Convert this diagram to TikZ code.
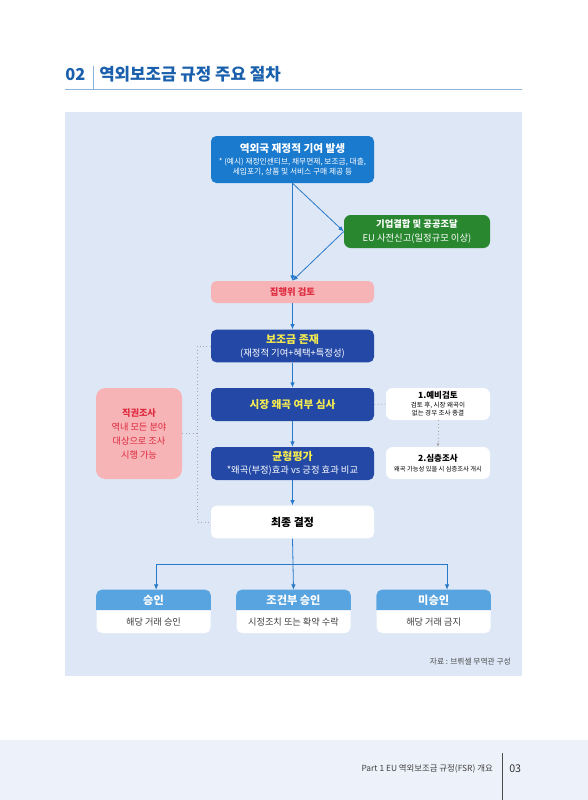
\documentclass[tikz,border=0pt]{standalone}
\usepackage{fontspec}
\setmainfont{Noto Sans CJK KR}
\definecolor{titleblue}{RGB}{26,96,172}
\definecolor{ruleblue}{RGB}{140,180,218}
\definecolor{panelbg}{RGB}{221,231,246}
\definecolor{footbg}{RGB}{237,241,250}
\definecolor{topblue}{RGB}{26,122,206}
\definecolor{mergegreen}{RGB}{41,135,48}
\definecolor{reviewpink}{RGB}{247,180,183}
\definecolor{reviewred}{RGB}{222,42,62}
\definecolor{stepnavy}{RGB}{35,72,165}
\definecolor{stepyellow}{RGB}{246,236,80}
\definecolor{hdrblue}{RGB}{88,164,224}
\definecolor{flowblue}{RGB}{40,122,200}
\usetikzlibrary{arrows.meta,calc}

\begin{document}
\begin{tikzpicture}[x=0.75pt,y=-0.75pt,
    every node/.style={font=\fontsize{7}{9}\selectfont,inner sep=0pt,align=center},
    flowbox/.style={rounded corners=4pt,minimum width=122.25pt,minimum height=24.5pt},
    navybox/.style={flowbox,fill=stepnavy,text=white},
    sidebox/.style={rounded corners=5pt,fill=white,minimum width=78pt,minimum height=24pt},
    outbox/.style={rounded corners=4pt,fill=white,minimum width=85.5pt,minimum height=32.25pt},
    hdrtext/.style={text=white,font=\fontsize{8.4}{9}\selectfont\bfseries},
    bodytext/.style={text=black!75,font=\fontsize{6.9}{8}\selectfont},
    flow/.style={draw=flowblue,line width=0.6pt,-{Latex[length=4pt,width=3.4pt]}},
    dotline/.style={draw=black!35,dotted,line width=0.6pt}]
  \useasboundingbox (0,0) rectangle (588,800);
  \fill[white] (0,0) rectangle (588,800);
  \fill[footbg] (0,740) rectangle (588,800);
  \fill[panelbg] (65,112) rectangle (522,676);

  % heading
  \node[anchor=west,text=titleblue,font=\fontsize{12.3}{14}\selectfont\bfseries]
        (chapno) at (65,75) {02};
  \draw[ruleblue,line width=0.6pt] (93,66) -- (93,89);
  \node[anchor=west,text=titleblue,font=\fontsize{12.6}{14}\selectfont\bfseries]
        (heading) at (99,74) {역외보조금 규정 주요 절차};
  \draw[ruleblue,line width=0.7pt] (65,89) -- (522,89);

  % main flow
  \node[flowbox,fill=topblue,text=white,minimum height=35.25pt,
        font=\fontsize{5.8}{7.4}\selectfont]
        (origin) at (292.5,159.5)
        {{\fontsize{8}{9}\selectfont\bfseries 역외국 재정적 기여 발생}\\[2pt]
         * (예시) 재정인센티브, 채무면제, 보조금, 대출,\\
         세입포기, 상품 및 서비스 구매 제공 등};
  \node[rounded corners=5pt,fill=mergegreen,text=white,minimum width=109.5pt,
        minimum height=24.75pt,font=\fontsize{7}{9.5}\selectfont]
        (merger) at (417,231.5)
        {{\bfseries 기업결합 및 공공조달}\\[1pt] EU 사전신고(일정규모 이상)};
  \node[flowbox,fill=reviewpink,text=reviewred,minimum height=16.5pt,
        font=\fontsize{7}{8}\selectfont\bfseries]
        (commission) at (292.5,292) {집행위 검토};
  \node[navybox,font=\fontsize{7}{9}\selectfont]
        (subsidy) at (292.5,346)
        {{\fontsize{8.2}{9}\selectfont\bfseries\color{stepyellow}보조금 존재}\\[0.5pt]
         (재정적 기여+혜택+특정성)};
  \node[navybox,minimum height=24.75pt,text=stepyellow,
        font=\fontsize{8}{9}\selectfont\bfseries]
        (distortion) at (292.5,404.5) {시장 왜곡 여부 심사};
  \node[navybox,minimum height=24.75pt,font=\fontsize{7}{9}\selectfont]
        (balance) at (292.5,463.5)
        {{\fontsize{8.2}{9}\selectfont\bfseries\color{stepyellow}균형평가}\\[0.5pt]
         *왜곡(부정)효과 vs 긍정 효과 비교};
  \node[flowbox,fill=white,font=\fontsize{8.2}{9}\selectfont\bfseries]
        (decision) at (292.5,522) {최종 결정};

  % side boxes
  \node[rounded corners=7pt,fill=reviewpink,text=reviewred,minimum width=64.5pt,
        minimum height=68.25pt,font=\fontsize{6.9}{10.5}\selectfont]
        (exofficio) at (139,433.5)
        {{\bfseries 직권조사}\\ 역내 모든 분야\\ 대상으로 조사\\ 시행 가능};
  \node[sidebox,font=\fontsize{4.9}{6.2}\selectfont]
        (prelim) at (438,404)
        {{\fontsize{6.4}{8}\selectfont\bfseries 1.예비검토}\\[0.5pt]
         검토 후, 시장 왜곡이\\ 없는 경우 조사 종결};
  \node[sidebox,font=\fontsize{4.7}{6}\selectfont]
        (indepth) at (438,463)
        {{\fontsize{6.4}{8}\selectfont\bfseries 2.심층조사}\\[1.5pt]
         왜곡 가능성 있을 시 심층조사 개시};

  % outcomes
  \foreach \nm/\cx/\hd/\bd in {approve/153.5/승인/해당 거래 승인,
      conditional/293.5/조건부 승인/시정조치 또는 확약 수락,
      reject/433.7/미승인/해당 거래 금지}{
    \node[outbox] (\nm) at (\cx,611.5) {};
    \fill[hdrblue] (\nm.west |- 0,610) [rounded corners=4pt] -- (\nm.north west)
          -- (\nm.north east) [sharp corners] -- (\nm.east |- 0,610) -- cycle;
    \node[hdrtext] (\nm-hd) at (\cx,600) {\hd};
    \node[bodytext] (\nm-bd) at (\cx,622) {\bd};
  }

  % connectors
  \coordinate (split) at (293,564);
  \coordinate (brk) at (197,0);
  \draw[flow] (origin.south) -- (commission.north);
  \draw[flow] (origin.south) -- (merger.west);
  \draw[flow] (merger.west) -- (commission.north);
  \draw[flow] (commission) -- (subsidy);
  \draw[flow] (subsidy) -- (distortion);
  \draw[flow] (distortion) -- (balance);
  \draw[flow] (balance) -- (decision);
  \draw[flowblue,line width=0.6pt] (decision.south) -- (split);
  \draw[flow] (split) -| ([xshift=2pt]approve.north);
  \draw[flow] (split) -- (conditional.north);
  \draw[flow] (split) -| ([xshift=10pt]reject.north);
  \draw[dotline] (subsidy.west) -| (brk |- decision.west) -- (decision.west);
  \draw[dotline] (exofficio.east) -- (brk |- exofficio.east);
  \draw[dotline] (distortion.east) -- (prelim.west);
  \draw[dotline,-{Latex[length=2.5pt,width=2.2pt]}] (prelim.south) -- (indepth.north);

  % source and footer
  \node[anchor=east,text=black!70,font=\fontsize{5.8}{7}\selectfont]
        (source) at (511,662) {자료 : 브뤼셀 무역관 구성};
  \node[anchor=east,text=black!75,font=\fontsize{6.3}{7}\selectfont]
        (partname) at (493,769) {Part 1 EU 역외보조금 규정(FSR) 개요};
  \draw[black!70,line width=0.6pt] (502,753) -- (502,800);
  \node[anchor=west,text=black!80,font=\fontsize{8}{9}\selectfont]
        (pageno) at (509,769) {03};
\end{tikzpicture}
\end{document}
